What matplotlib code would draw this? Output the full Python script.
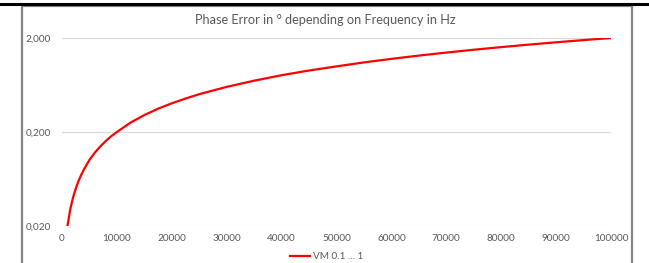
import matplotlib
matplotlib.use("Agg")
import matplotlib.pyplot as plt
from matplotlib.ticker import FixedLocator, FuncFormatter
from matplotlib.patches import Rectangle
from matplotlib.lines import Line2D

# values
freq_hz = [1000, 1500, 2000, 2500, 3000, 3500, 4000, 5000, 6000, 7000, 8000, 9000, 10000,
           12500, 15000, 17500, 20000, 22500, 25000, 30000, 35000, 40000, 45000,
           50000, 55000, 60000, 65000, 70000, 75000, 80000, 85000, 90000, 95000, 100000]
phase_err = [0.020, 0.030, 0.040, 0.050, 0.060, 0.070, 0.080, 0.101, 0.121, 0.141, 0.161, 0.181, 0.200,
             0.252, 0.303, 0.354, 0.404, 0.454, 0.505, 0.604, 0.703, 0.804, 0.902,
             0.998, 1.10, 1.20, 1.30, 1.40, 1.50, 1.60, 1.70, 1.80, 1.90, 2.000]
y_ticks = [0.02, 0.2, 2.0]
x_ticks = [0, 10000, 20000, 30000, 40000, 50000, 60000, 70000, 80000, 90000, 100000]
series_name = "VM 0.1 ... 1"
title = "Phase Error in \u00b0 depending on Frequency in Hz"

plt.rcParams["font.family"] = ["Lato", "DejaVu Sans"]
W, H = 649, 263
fig = plt.figure(figsize=(W / 100, H / 100), dpi=100)

# page decoration: black rule at top and the grey chart frame
fig.add_artist(Line2D([0, 1], [1 - 3.5 / H, 1 - 3.5 / H], color="black", lw=2.2,
                      transform=fig.transFigure))
fig.add_artist(Rectangle((21.5 / W, -0.1), (632 - 21.5) / W, 1.1 - 6 / H,
                         fill=False, edgecolor="#858585", lw=1.6, transform=fig.transFigure))

ax = fig.add_axes([62 / W, 1 - 226 / H, (611 - 62) / W, (226 - 38) / H])
ax.plot(freq_hz, phase_err, color="#ff0000", lw=1.6, label=series_name,
        solid_joinstyle="round")
ax.set_yscale("log")
ax.set_ylim(0.02, 2.0)
ax.set_xlim(0, 100000)
ax.yaxis.set_major_locator(FixedLocator(y_ticks))
ax.yaxis.set_minor_locator(FixedLocator([]))
ax.yaxis.set_major_formatter(FuncFormatter(lambda v, p: f"{v:.3f}".replace(".", ",")))
ax.set_xticks(x_ticks)
ax.set_xticklabels([str(t) for t in x_ticks])
ax.grid(axis="y", color="#d9d9d9", lw=0.8)
ax.set_axisbelow(True)
for s in ax.spines.values():
    s.set_visible(False)
ax.tick_params(length=0, labelsize=7.2, colors="#595959", pad=5.5)
ax.tick_params(axis="y", pad=8)

fig.text(325 / W, 1 - 19.5 / H, title, ha="center", va="center",
         fontsize=9.2, color="#595959")
fig.legend(loc="center", bbox_to_anchor=(327 / W, 1 - 256.5 / H), frameon=False,
           fontsize=7.2, labelcolor="#595959", handlelength=2.0, handletextpad=0.3)

fig.savefig("out.png", dpi=100)
